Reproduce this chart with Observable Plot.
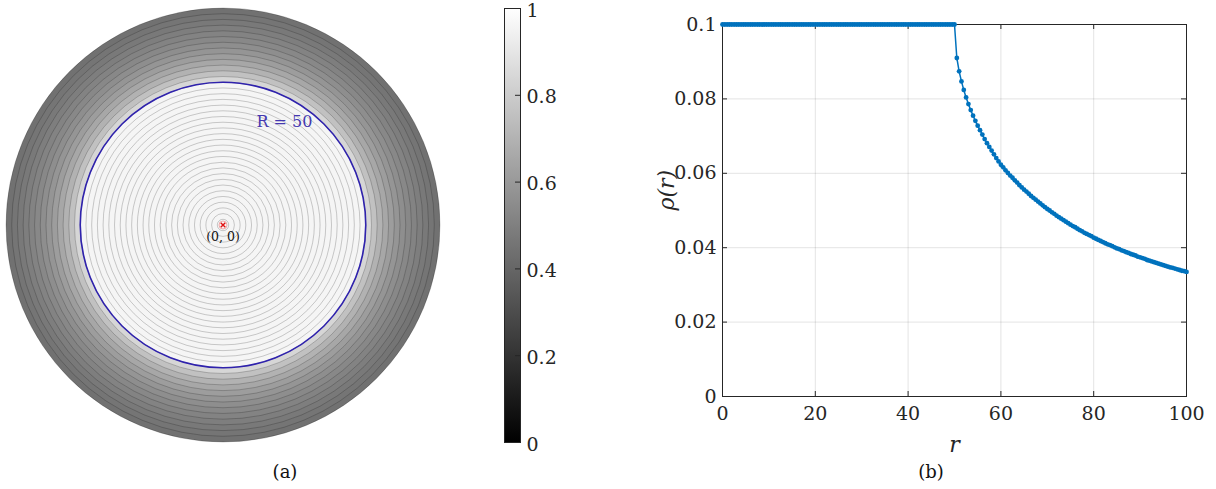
<!DOCTYPE html>
<html>
<head>
<meta charset="utf-8">
<script src="https://cdn.jsdelivr.net/npm/d3@7"></script>
<script src="https://cdn.jsdelivr.net/npm/@observablehq/plot@0.6"></script>
<style>
  html, body { margin: 0; padding: 0; background: #fff; }
  #fig { position: relative; width: 1216px; height: 489px; overflow: hidden; background: #fff; font-family: "DejaVu Serif", serif; }
  #fig svg, #fig svg text { font-family: "DejaVu Serif", serif !important; }
  .panel { position: absolute; top: 0; }
  .cap { position: absolute; font-family: "DejaVu Serif", serif; font-size: 18px; color: #111; transform: translate(-50%, -50%); white-space: nowrap; }
</style>
</head>
<body>
<div id="fig">
  <div id="disk" class="panel" style="left:0px"></div>
  <div id="cbar" class="panel" style="left:490px"></div>
  <div id="line" class="panel" style="left:640px"></div>
  <div class="cap" style="left:285px; top:471px">(a)</div>
  <div class="cap" style="left:931px; top:471px">(b)</div>
</div>
<script>
// ---------- data ----------
const xTicks = [0, 20, 40, 60, 80, 100];
const yTicks = [0, 0.02, 0.04, 0.06, 0.08, 0.1];
const yTickLabels = ["0", "0.02", "0.04", "0.06", "0.08", "0.1"];
const cbTicks = [0, 0.2, 0.4, 0.6, 0.8, 1];
const cbTickLabels = ["0", "0.2", "0.4", "0.6", "0.8", "1"];
const xLabel = "r";
const yLabel = "ρ(r)";
const circleLabel = "R = 50";
const originLabel = "(0, 0)";
const boundaryR = [50];

const r = [
  0,0.5,1,1.5,2,2.5,3,3.5,4,4.5,5,5.5,6,6.5,7,7.5,8,8.5,9,9.5,
  10,10.5,11,11.5,12,12.5,13,13.5,14,14.5,15,15.5,16,16.5,17,17.5,18,18.5,19,19.5,
  20,20.5,21,21.5,22,22.5,23,23.5,24,24.5,25,25.5,26,26.5,27,27.5,28,28.5,29,29.5,
  30,30.5,31,31.5,32,32.5,33,33.5,34,34.5,35,35.5,36,36.5,37,37.5,38,38.5,39,39.5,
  40,40.5,41,41.5,42,42.5,43,43.5,44,44.5,45,45.5,46,46.5,47,47.5,48,48.5,49,49.5,
  50,50.5,51,51.5,52,52.5,53,53.5,54,54.5,55,55.5,56,56.5,57,57.5,58,58.5,59,59.5,
  60,60.5,61,61.5,62,62.5,63,63.5,64,64.5,65,65.5,66,66.5,67,67.5,68,68.5,69,69.5,
  70,70.5,71,71.5,72,72.5,73,73.5,74,74.5,75,75.5,76,76.5,77,77.5,78,78.5,79,79.5,
  80,80.5,81,81.5,82,82.5,83,83.5,84,84.5,85,85.5,86,86.5,87,87.5,88,88.5,89,89.5,
  90,90.5,91,91.5,92,92.5,93,93.5,94,94.5,95,95.5,96,96.5,97,97.5,98,98.5,99,99.5,
  100
];
const rho = [
  0.1,0.1,0.1,0.1,0.1,0.1,0.1,0.1,0.1,0.1,0.1,0.1,0.1,0.1,0.1,0.1,0.1,0.1,0.1,0.1,
  0.1,0.1,0.1,0.1,0.1,0.1,0.1,0.1,0.1,0.1,0.1,0.1,0.1,0.1,0.1,0.1,0.1,0.1,0.1,0.1,
  0.1,0.1,0.1,0.1,0.1,0.1,0.1,0.1,0.1,0.1,0.1,0.1,0.1,0.1,0.1,0.1,0.1,0.1,0.1,0.1,
  0.1,0.1,0.1,0.1,0.1,0.1,0.1,0.1,0.1,0.1,0.1,0.1,0.1,0.1,0.1,0.1,0.1,0.1,0.1,0.1,
  0.1,0.1,0.1,0.1,0.1,0.1,0.1,0.1,0.1,0.1,0.1,0.1,0.1,0.1,0.1,0.1,0.1,0.1,0.1,0.1,
  0.1,0.0910,0.0874,0.0847,0.0824,0.0804,0.0786,0.0770,0.0755,0.0741,0.0728,0.0716,0.0704,0.0692,0.0681,0.0671,0.0661,0.0651,0.0641,0.0632,
  0.0623,0.0616,0.0608,0.0601,0.0594,0.0588,0.0581,0.0575,0.0568,0.0562,0.0556,0.0551,0.0545,0.0539,0.0534,0.0529,0.0524,0.0519,0.0514,0.0509,
  0.0504,0.0500,0.0495,0.0491,0.0486,0.0482,0.0478,0.0474,0.0470,0.0466,0.0462,0.0458,0.0455,0.0451,0.0447,0.0444,0.0440,0.0437,0.0434,0.0431,
  0.0427,0.0424,0.0421,0.0418,0.0415,0.0412,0.0409,0.0407,0.0404,0.0401,0.0398,0.0396,0.0393,0.0391,0.0388,0.0386,0.0383,0.0381,0.0379,0.0376,
  0.0374,0.0372,0.0370,0.0367,0.0365,0.0363,0.0361,0.0359,0.0357,0.0355,0.0353,0.0351,0.0349,0.0347,0.0346,0.0344,0.0342,0.0340,0.0338,0.0337,
  0.0335
];
// outer radius of each shaded ring in panel (a)
const ringR = [2,4,6,8,10,12,14,16,18,20,22,24,26,28,30,32,34,36,38,40,
               42,44,46,48,50,52,54,56,58,60,62,64,66,68,70,72,74,76];

// ---------- derived tables ----------
const series = r.map((ri, i) => ({r: ri, rho: rho[i]}));
const rings = ringR.map(R => ({R, v: rho[r.indexOf(R - 1)]})).sort((a, b) => b.R - a.R);

const FONT = "'DejaVu Serif', serif";

// ---------- panel (a): disk ----------
const diskPlot = Plot.plot({
  width: 460, height: 460,
  margin: 0,
  x: {domain: [-76, 76], range: [5.5, 439.5], axis: null, label: null},
  y: {domain: [-76, 76], range: [441.5, 7.5], axis: null, label: null},
  r: {type: "linear", domain: [0, 76], range: [0, 217]},
  color: {type: "linear", domain: [0, 0.1], range: ["#000000", "#f5f5f5"]},
  style: {fontFamily: FONT, background: "white", overflow: "visible"},
  marks: [
    Plot.dot(rings, {x: 0, y: 0, r: "R", fill: "v", stroke: "#000", strokeOpacity: 0.28, strokeWidth: 0.7, sort: null}),
    Plot.dot(boundaryR, {x: 0, y: 0, r: d => d, fill: "none", stroke: "#2f22ad", strokeWidth: 1.6}),
    Plot.text([circleLabel], {x: 21.5, y: 36, text: d => d, fill: "#4438b0", fontSize: 16, fontFamily: FONT}),
    Plot.dot([0], {x: 0, y: 0, r: 4, fill: "none", stroke: "#f2a8a8", strokeWidth: 1}),
    Plot.dot([0], {x: 0, y: 0, r: 2.2, symbol: "times", stroke: "#e01010", strokeWidth: 1.4}),
    Plot.text([originLabel], {x: 0, y: 0, dy: 12, text: d => d, fill: "#111", fontSize: 12.5, fontFamily: FONT})
  ]
});
document.getElementById("disk").appendChild(diskPlot);

// ---------- colorbar ----------
const cbPlot = Plot.plot({
  width: 80, height: 460,
  marginLeft: 14, marginRight: 50, marginTop: 8, marginBottom: 18,
  x: {domain: [0, 1], axis: null, label: null},
  y: {domain: [0, 1], axis: null, label: null},
  style: {fontFamily: FONT, fontSize: "19px", color: "#262626", background: "white", overflow: "visible"},
  marks: [
    Plot.frame({fill: "url(#cbgrad)", stroke: "#262626", strokeWidth: 1}),
    Plot.ruleY(cbTicks, {y: d => d, insetLeft: 11, stroke: "#262626", strokeWidth: 1}),
    Plot.axisY(cbTicks, {anchor: "right", label: null, tickSize: 0, tickPadding: 6, tickFormat: (d, i) => cbTickLabels[i], fontSize: 19, fill: "#262626", dy: 2})
  ]
});
{
  const ns = "http://www.w3.org/2000/svg";
  const defs = document.createElementNS(ns, "defs");
  const g = document.createElementNS(ns, "linearGradient");
  g.setAttribute("id", "cbgrad");
  g.setAttribute("x1", "0"); g.setAttribute("y1", "1"); g.setAttribute("x2", "0"); g.setAttribute("y2", "0");
  [["0", "#000000"], ["1", "#ffffff"]].forEach(([o, c]) => {
    const s = document.createElementNS(ns, "stop");
    s.setAttribute("offset", o); s.setAttribute("stop-color", c);
    g.appendChild(s);
  });
  defs.appendChild(g);
  cbPlot.insertBefore(defs, cbPlot.firstChild);
  const fr = cbPlot.querySelector("rect");
  if (fr) fr.setAttribute("fill", "url(#cbgrad)");
}
document.getElementById("cbar").appendChild(cbPlot);

// ---------- panel (b): line chart ----------
const W = 576, H = 489, ML = 82, MR = 30, MT = 24, MB = 93;
const PW = W - ML - MR, PH = H - MT - MB;
const linePlot = Plot.plot({
  width: W, height: H,
  marginLeft: ML, marginRight: MR, marginTop: MT, marginBottom: MB,
  x: {domain: [0, 100], axis: null, label: null},
  y: {domain: [0, 0.1], axis: null, label: null},
  style: {fontFamily: FONT, fontSize: "19px", color: "#262626", background: "white", overflow: "visible"},
  marks: [
    Plot.gridX(xTicks, {stroke: "#000", strokeOpacity: 0.11, strokeWidth: 1}),
    Plot.gridY(yTicks, {stroke: "#000", strokeOpacity: 0.11, strokeWidth: 1}),
    Plot.ruleX(xTicks, {x: d => d, insetTop: PH - 5, stroke: "#262626"}),
    Plot.ruleX(xTicks, {x: d => d, insetBottom: PH - 5, stroke: "#262626"}),
    Plot.ruleY(yTicks, {y: d => d, insetRight: PW - 5, stroke: "#262626"}),
    Plot.ruleY(yTicks, {y: d => d, insetLeft: PW - 5, stroke: "#262626"}),
    Plot.frame({stroke: "#262626", strokeWidth: 1}),
    Plot.axisX(xTicks, {anchor: "bottom", label: null, tickSize: 0, tickPadding: 10, tickFormat: d => String(d), fontSize: 19, fill: "#262626"}),
    Plot.axisY(yTicks, {anchor: "left", label: null, tickSize: 0, tickPadding: 6, tickFormat: (d, i) => yTickLabels[i], fontSize: 19, fill: "#262626"}),
    Plot.text([xLabel], {frameAnchor: "bottom", dy: 48, lineAnchor: "middle", text: d => d, fontStyle: "italic", fontSize: 22, fill: "#262626"}),
    Plot.text([yLabel], {frameAnchor: "left", dx: -56, rotate: -90, lineAnchor: "middle", text: d => d, fontStyle: "italic", fontSize: 22, fill: "#262626"}),
    Plot.line(series, {x: "r", y: "rho", stroke: "#0072BD", strokeWidth: 1.5}),
    Plot.dot(series, {x: "r", y: "rho", r: 2.4, fill: "#0072BD", stroke: "none"})
  ]
});
document.getElementById("line").appendChild(linePlot);
</script>
</body>
</html>
